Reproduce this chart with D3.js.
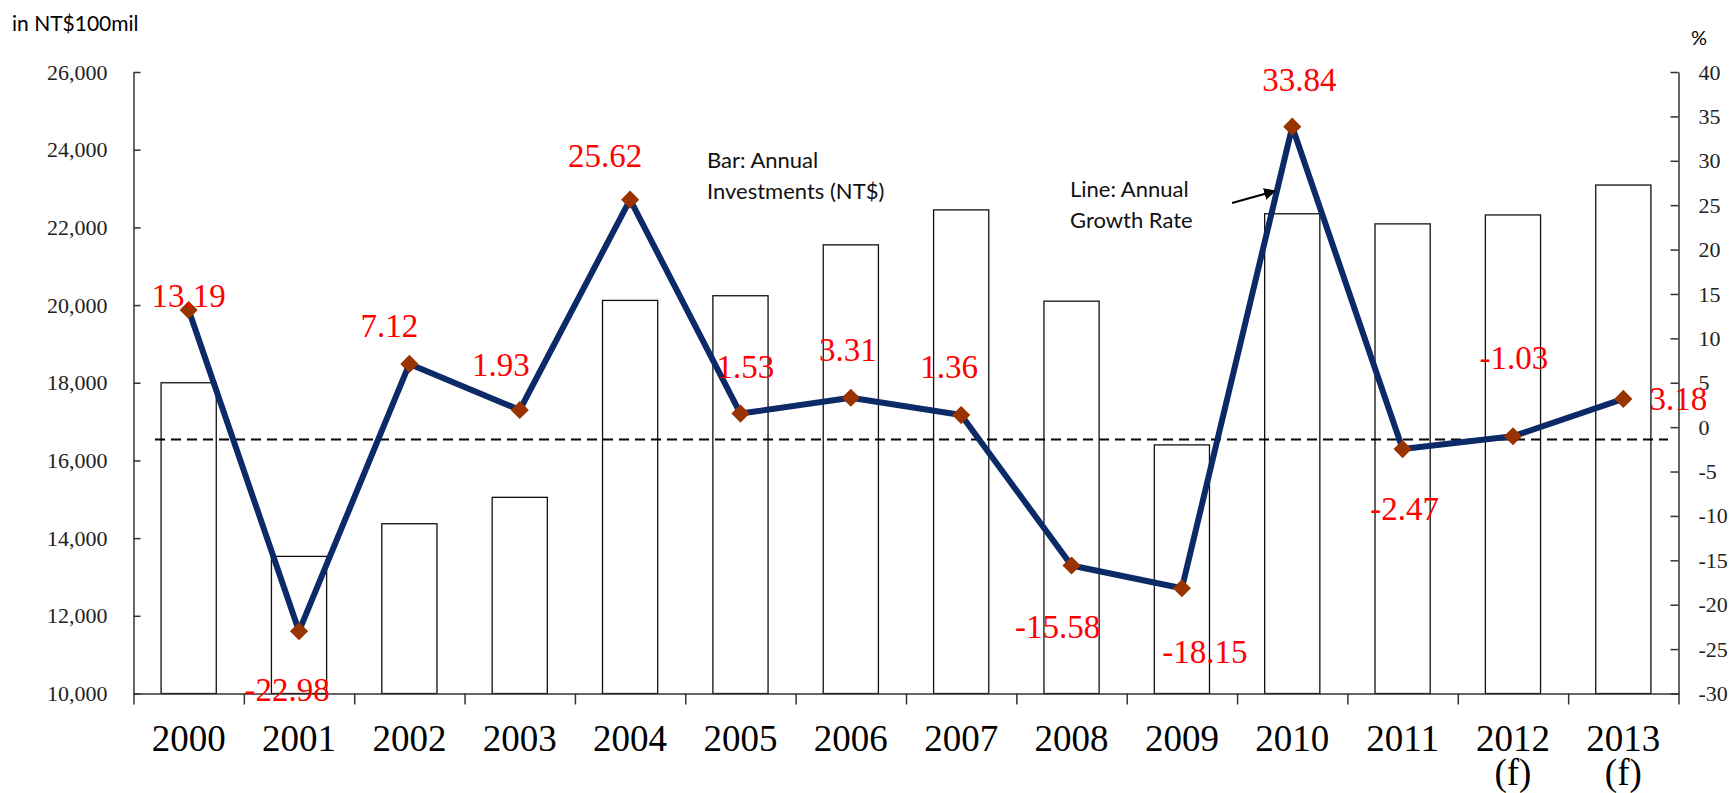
<!DOCTYPE html>
<html>
<head>
<meta charset="utf-8">
<script src="https://cdn.jsdelivr.net/npm/d3@7"></script>
<style>
  body { margin: 0; background: #fff; }
  svg { display: block; }
</style>
</head>
<body>
<svg id="chart" width="1731" height="793"></svg>
<script>
// data
const years = ["2000", "2001", "2002", "2003", "2004", "2005", "2006", "2007", "2008", "2009", "2010", "2011", "2012", "2013"];
const yearLabels = ["2000", "2001", "2002", "2003", "2004", "2005", "2006", "2007", "2008", "2009", "2010", "2011", "2012|(f)", "2013|(f)"];
const investments = [18000, 13530, 14370, 15050, 20120, 20240, 21550, 22450, 20100, 16400, 22350, 22090, 22320, 23090];
const growthRate = [13.19, -22.98, 7.12, 1.93, 25.62, 1.53, 3.31, 1.36, -15.58, -18.15, 33.84, -2.47, -1.03, 3.18];
const leftTicks = [10000, 12000, 14000, 16000, 18000, 20000, 22000, 24000, 26000];
const rightTicks = [-30, -25, -20, -15, -10, -5, 0, 5, 10, 15, 20, 25, 30, 35, 40];
const referenceLevel = 16540; // dashed line, left axis units

// where each growth label sits relative to its marker [dx, dy]
const labelOffsets = [
  [0, -3], [-12, 70], [-20, -27], [-19, -34], [-25, -33], [5, -36], [-3, -37],
  [-12, -37], [-14, 73], [23, 75], [7, -36], [2, 71], [1, -67], [55, 11]
];

function createChart() {
  const svg = d3.select("#chart");
  const serif = "'Liberation Serif', 'Times New Roman', serif";
  const sans = "Lato, 'Open Sans', sans-serif";

  const left = 133.5, right = 1678.5, top = 72, bottom = 693.5;

  const x = d3.scaleBand()
    .domain(years)
    .range([left, right])
    .paddingInner(0.5)
    .paddingOuter(0.25);

  const yLeft = d3.scaleLinear().domain([10000, 26000]).range([bottom, top]);
  const yRight = d3.scaleLinear().domain([-30, 40]).range([bottom, top]);

  // bars
  svg.selectAll(".bar")
    .data(investments)
    .enter()
    .append("rect")
    .attr("class", "bar")
    .attr("x", (d, i) => x(years[i]))
    .attr("y", (d) => yLeft(d))
    .attr("width", x.bandwidth())
    .attr("height", (d) => bottom - yLeft(d))
    .attr("fill", "#fff")
    .attr("stroke", "#111")
    .attr("stroke-width", 1.3);

  // dashed reference line
  svg.append("line")
    .attr("x1", 155)
    .attr("x2", 1668)
    .attr("y1", yLeft(referenceLevel))
    .attr("y2", yLeft(referenceLevel))
    .attr("stroke", "#000")
    .attr("stroke-width", 2)
    .attr("stroke-dasharray", "10,6");

  // left axis
  const gl = svg.append("g")
    .attr("transform", `translate(${left},0)`)
    .call(d3.axisLeft(yLeft).tickValues(leftTicks).tickFormat(d3.format(",")).tickSize(-7).tickPadding(26).tickSizeOuter(0));

  // right axis (plain hyphen minus as in the original)
  const gr = svg.append("g")
    .attr("transform", `translate(${right},0)`)
    .call(d3.axisRight(yRight).tickValues(rightTicks).tickFormat((d) => String(d)).tickSize(-8).tickPadding(20).tickSizeOuter(0));

  // bottom axis: ticks on band boundaries, labels at band centers
  const xEdge = d3.scaleLinear().domain([0, years.length]).range([left, right]);
  const gb = svg.append("g")
    .attr("transform", `translate(0,${bottom})`)
    .call(d3.axisBottom(xEdge).tickValues(d3.range(years.length + 1)).tickFormat("").tickSize(11).tickSizeOuter(0));

  [gl, gr, gb].forEach((g) => {
    g.attr("font-family", null).attr("font-size", null);
    g.select(".domain").attr("stroke", "#333").attr("stroke-width", 1.5);
    g.selectAll(".tick line").attr("stroke", "#333").attr("stroke-width", 1.5);
    g.selectAll("text")
      .style("font-family", serif)
      .style("font-size", "22px")
      .attr("fill", "#222");
  });

  const labels = svg.append("g")
    .selectAll("text")
    .data(yearLabels)
    .enter()
    .append("text")
    .attr("x", (d, i) => x(years[i]) + x.bandwidth() / 2)
    .attr("y", 751)
    .attr("text-anchor", "middle")
    .attr("font-family", serif)
    .attr("font-size", 37)
    .attr("fill", "#000");
  labels.each(function (d) {
    const parts = d.split("|");
    d3.select(this).selectAll("tspan")
      .data(parts)
      .enter()
      .append("tspan")
      .attr("x", d3.select(this).attr("x"))
      .attr("dy", (p, j) => (j === 0 ? 0 : 34))
      .text((p) => p);
  });

  // growth line
  const cx = (i) => x(years[i]) + x.bandwidth() / 2;
  const line = d3.line()
    .x((d, i) => cx(i))
    .y((d) => yRight(d));

  svg.append("path")
    .datum(growthRate)
    .attr("d", line)
    .attr("fill", "none")
    .attr("stroke", "#0c2a68")
    .attr("stroke-width", 6)
    .attr("stroke-linejoin", "round");

  svg.selectAll(".marker")
    .data(growthRate)
    .enter()
    .append("path")
    .attr("class", "marker")
    .attr("d", d3.symbol().type(d3.symbolSquare).size(165))
    .attr("transform", (d, i) => `translate(${cx(i)},${yRight(d)}) rotate(45)`)
    .attr("fill", "#993300");

  svg.selectAll(".growth-label")
    .data(growthRate)
    .enter()
    .append("text")
    .attr("class", "growth-label")
    .attr("x", (d, i) => cx(i) + labelOffsets[i][0])
    .attr("y", (d, i) => yRight(d) + labelOffsets[i][1])
    .attr("text-anchor", "middle")
    .attr("font-family", serif)
    .attr("font-size", 33)
    .attr("fill", "#ff0000")
    .text((d) => d.toFixed(2));

  // units
  svg.append("text")
    .attr("x", 12).attr("y", 31)
    .attr("font-family", sans).attr("font-size", 21)
    .text("in NT$100mil");

  svg.append("text")
    .attr("x", 1691).attr("y", 45)
    .attr("font-family", sans).attr("font-size", 20)
    .text("%");

  // annotations
  const note1 = svg.append("text")
    .attr("font-family", sans).attr("font-size", 22).attr("fill", "#111");
  note1.append("tspan").attr("x", 707).attr("y", 168).text("Bar: Annual");
  note1.append("tspan").attr("x", 707).attr("y", 199).text("Investments (NT$)");

  const note2 = svg.append("text")
    .attr("font-family", sans).attr("font-size", 22).attr("fill", "#111");
  note2.append("tspan").attr("x", 1070).attr("y", 197).text("Line: Annual");
  note2.append("tspan").attr("x", 1070).attr("y", 228).text("Growth Rate");

  svg.append("defs")
    .append("marker")
    .attr("id", "arrow")
    .attr("viewBox", "0 0 10 10")
    .attr("refX", 9).attr("refY", 5)
    .attr("markerWidth", 6).attr("markerHeight", 6)
    .attr("orient", "auto")
    .append("path")
    .attr("d", "M0,0 L10,5 L0,10 Z")
    .attr("fill", "#000");

  svg.append("line")
    .attr("x1", 1232).attr("y1", 203)
    .attr("x2", 1275).attr("y2", 191)
    .attr("stroke", "#000")
    .attr("stroke-width", 2)
    .attr("marker-end", "url(#arrow)");
}

createChart();
</script>
</body>
</html>
